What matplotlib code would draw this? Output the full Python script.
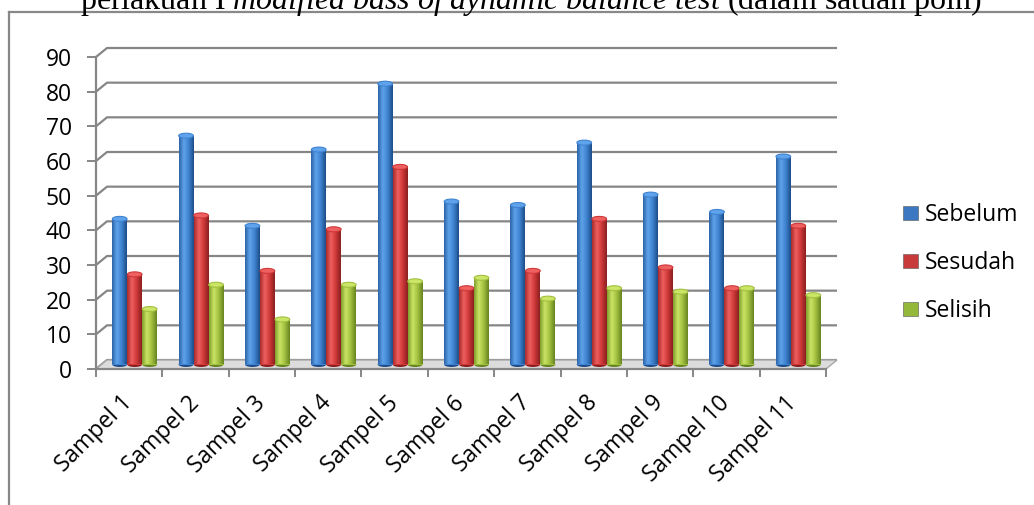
import matplotlib.pyplot as plt
import numpy as np
from matplotlib.colors import LinearSegmentedColormap
from matplotlib.patches import Ellipse, Polygon, Patch
from matplotlib.lines import Line2D

# data
samples = ['Sampel 1', 'Sampel 2', 'Sampel 3', 'Sampel 4', 'Sampel 5', 'Sampel 6',
           'Sampel 7', 'Sampel 8', 'Sampel 9', 'Sampel 10', 'Sampel 11']
sebelum = [42, 66, 40, 62, 81, 47, 46, 64, 49, 44, 60]
sesudah = [26, 43, 27, 39, 57, 22, 27, 42, 28, 22, 40]
selisih = [16, 23, 13, 23, 24, 25, 19, 22, 21, 22, 20]
series_names = ['Sebelum', 'Sesudah', 'Selisih']
y_ticks = list(range(0, 100, 10))

# cylinder shading, left edge -> highlight -> right edge
shades = [
    ['#2b62a6', '#5fa3ec', '#3f83d0', '#1d4c88'],
    ['#a92a2a', '#ef6060', '#cf3838', '#8a1f1f'],
    ['#7d9c2a', '#cbe566', '#a2c040', '#66841f'],
]
legend_colors = ['#3c78c2', '#c83a3a', '#94b83a']

W, H = 1034, 505
fig = plt.figure(figsize=(W / 100, H / 100), dpi=100)
ax = fig.add_axes([96 / W, 1 - 369 / H, 730 / W, 312 / H])
ax.set_xlim(0, 11)
ax.set_ylim(0, 90)

# pixel -> data conversion for the fake depth
ux = 11 / 730
uy = 90 / 312
DX, DY = 11 * ux, 9 * uy
grid_col = '#868686'

# back wall gridlines with the little side-wall diagonals
for v in y_ticks:
    ax.plot([0, DX, 11 + DX], [v, v + DY, v + DY], color=grid_col, lw=1.6,
            clip_on=False, zorder=1, solid_capstyle='butt')

# floor
floor = Polygon([(0, 0), (11, 0), (11 + DX, DY), (DX, DY)], closed=True,
                facecolor='#dcdcdc', edgecolor='#a8a8a8', lw=1.0, clip_on=False, zorder=1.5)
ax.add_patch(floor)

# bars
bw = 15 * ux
cap_h = 5 * uy
x = np.arange(len(samples)) + 0.5 + DX / 2
grad = np.linspace(0, 1, 64).reshape(1, -1)
for i, vals in enumerate([sebelum, sesudah, selisih]):
    cmap = LinearSegmentedColormap.from_list(
        series_names[i], list(zip([0, 0.32, 0.65, 1], shades[i])))
    xs = x + (i - 1) * bw
    bars = ax.bar(xs, vals, bw, bottom=DY / 2, color=shades[i][2], lw=0, zorder=3)
    for b, v in zip(bars, vals):
        x0 = b.get_x()
        im = ax.imshow(grad, cmap=cmap, aspect='auto', interpolation='bicubic',
                       extent=[x0, x0 + bw, DY / 2 - cap_h / 2, v + DY / 2], zorder=3)
        im.set_clip_path(b)
        # rounded foot and top of the cylinder
        ax.add_patch(Ellipse((x0 + bw / 2, DY / 2), bw, cap_h, facecolor=shades[i][3],
                             lw=0, zorder=2.9))
        ax.add_patch(Ellipse((x0 + bw / 2, v + DY / 2), bw * 0.98, cap_h,
                             facecolor=shades[i][1], edgecolor=shades[i][2], lw=0.8, zorder=3.5))

ax.set_xlim(0, 11)
ax.set_ylim(0, 90)

# axes styling
for s in ['top', 'right']:
    ax.spines[s].set_visible(False)
for s in ['left', 'bottom']:
    ax.spines[s].set_color(grid_col)
    ax.spines[s].set_linewidth(1.6)

font = 'Open Sans'
fs = 16.5
ax.set_yticks(y_ticks)
ax.set_yticklabels([str(v) for v in y_ticks], fontsize=fs, family=font)
ax.tick_params(axis='y', direction='out', length=6.5, width=1.4, color=grid_col, pad=11)

ax.set_xticks(np.arange(0, 12))
ax.set_xticklabels([])
ax.set_xticks(np.arange(len(samples)) + 0.5, minor=True)
ax.set_xticklabels(samples, minor=True, rotation=45, ha='right', va='center',
                   rotation_mode='anchor', fontsize=fs, family=font)
ax.tick_params(axis='x', which='major', direction='out', length=6, width=1.4, color=grid_col)
ax.tick_params(axis='x', which='minor', length=0, pad=22)

handles = [Patch(facecolor=c, edgecolor='#555555', lw=0.4) for c in legend_colors]
ax.legend(handles, series_names, loc='center left', bbox_to_anchor=(903 / W, 1 - 263 / H),
          bbox_transform=fig.transFigure, frameon=False, prop={'family': font, 'size': fs},
          handlelength=0.65, handleheight=0.6, handletextpad=0.3, labelspacing=1.05,
          borderpad=0, borderaxespad=0)

# outer frame of the chart box
fig.add_artist(Line2D([8.5 / W, 8.5 / W], [0, 1 - 11.5 / H], color='#888888', lw=1.6))
fig.add_artist(Line2D([8.5 / W, 1], [1 - 11.5 / H, 1 - 11.5 / H], color='#888888', lw=1.6))

# caption line above the chart
plt.rcParams['mathtext.fontset'] = 'custom'
plt.rcParams['mathtext.rm'] = 'Liberation Serif'
plt.rcParams['mathtext.it'] = 'Liberation Serif:italic'
fig.text(80 / W, 1 - 9 / H,
         r'perlakuan I $\mathit{modified\ bass\ of\ dynamic\ balance\ test}$ (dalam satuan poin)',
         family='Liberation Serif', fontsize=23, ha='left', va='baseline')

fig.savefig('out.png', dpi=100)
